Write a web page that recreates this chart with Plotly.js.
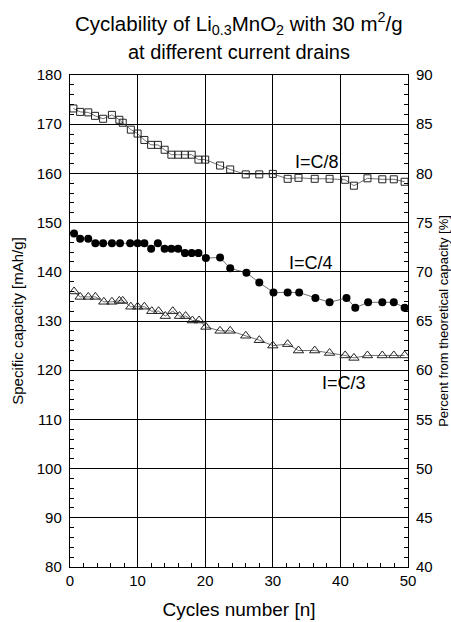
<!DOCTYPE html>
<html>
<head>
<meta charset="utf-8">
<script src="https://cdn.plot.ly/plotly-3.0.1.min.js"></script>
<style>html,body{margin:0;padding:0;background:#fff}#chart{width:451px;height:622px}</style>
</head>
<body>
<div id="chart"></div>
<script>
// Cycle numbers and specific capacity [mAh/g]
var c8x = [0.5,1.5,2.7,3.7,4.9,6.2,7.3,7.8,9,10,11,12,13,14,15,16,17,18,19,20,22.2,23.7,26,28,30,32.2,33.8,36.2,38.4,40.7,42,44,46.2,47.9,49.5];
var c8y = [173.2,172.5,172.4,171.7,171.1,171.9,170.9,170.3,168.9,168.1,166.8,165.8,165.8,164.8,163.8,163.8,163.8,163.8,162.8,162.8,161.6,160.8,159.8,159.8,159.9,158.9,159.1,158.9,158.9,158.7,157.5,159.0,158.8,158.8,158.3];

var c4x = [0.6,1.5,2.7,3.75,4.9,6.2,7.4,8.9,10,11,12,13,14,15,16,17,18,19,20.1,22.2,23.7,26.1,28,30.1,32.2,33.9,36.3,38.4,40.9,42.2,44.1,46.2,47.9,49.5];
var c4y = [147.8,146.7,146.7,145.8,145.8,145.8,145.8,145.8,145.8,145.8,144.7,145.8,144.7,144.7,144.7,143.8,143.8,143.8,142.8,142.9,140.7,139.8,137.8,135.8,135.8,135.8,134.7,133.8,134.7,132.7,133.8,133.8,133.8,132.7];

var c3x = [0.6,1.5,2.7,3.75,5,6.2,7.3,7.8,9,10,11,12.1,13.1,14.1,15.2,16.2,17.1,18.1,19.1,20.1,22.2,23.7,26,28,30,32.2,33.8,36.2,38.4,40.7,42,44,46.2,47.9,49.5];
var c3y = [136.0,134.9,134.9,134.9,133.9,133.9,134.1,134.1,132.9,132.9,132.9,132.0,132.0,131.0,132.0,131.0,131.0,130.1,130.1,128.8,128.0,128.0,127.0,126.1,125.0,125.3,124.0,124.0,123.5,123.0,122.5,123.0,123.0,123.0,123.0];

var seriesLabels = ['I=C/8', 'I=C/4', 'I=C/3'];
var titleLines = ['Cyclability of Li<sub>0.3</sub>MnO<sub>2</sub> with 30 m<sup>2</sup>/g', 'at different current drains'];

var FONT = 'Liberation Sans, Arial, sans-serif';
var lineStyle = {color: '#333', width: 0.7};

var traces = [
  {x: c8x, y: c8y, mode: 'lines+markers', name: seriesLabels[0], line: lineStyle,
   marker: {symbol: 'square-open', size: 7, color: '#222', line: {width: 1}}},
  {x: c4x, y: c4y, mode: 'lines+markers', name: seriesLabels[1], line: lineStyle,
   marker: {symbol: 'circle', size: 8, color: '#000'}},
  {x: c3x, y: c3y, mode: 'lines+markers', name: seriesLabels[2], line: lineStyle,
   marker: {symbol: 'triangle-up-open', size: 9, color: '#222', line: {width: 1}}},
  {x: [0, 50], y: [40, 90], yaxis: 'y2', mode: 'markers', marker: {opacity: 0}, hoverinfo: 'skip', showlegend: false}
];

var layout = {
  width: 451, height: 622,
  margin: {l: 70, r: 43, t: 75, b: 55},
  paper_bgcolor: '#fff', plot_bgcolor: '#fff',
  showlegend: false,
  font: {family: FONT, color: '#000', size: 15},
  xaxis: {
    range: [0, 50], dtick: 10, tick0: 0,
    ticks: 'inside', ticklen: 7, tickwidth: 1, tickcolor: '#000',
    minor: {dtick: 2, ticks: 'inside', ticklen: 4, tickcolor: '#000', showgrid: false},
    showgrid: true, gridcolor: '#000', gridwidth: 1,
    showline: true, linecolor: '#000', linewidth: 1.2, mirror: true,
    zeroline: false,
    tickfont: {size: 15},
    title: {text: 'Cycles number [n]', font: {size: 19}, standoff: 14}
  },
  yaxis: {
    range: [80, 180], dtick: 10, tick0: 80,
    ticks: 'inside', ticklen: 7, tickwidth: 1, tickcolor: '#000',
    minor: {dtick: 2, ticks: 'inside', ticklen: 4, tickcolor: '#000', showgrid: false},
    showgrid: true, gridcolor: '#000', gridwidth: 1,
    showline: true, linecolor: '#000', linewidth: 1.2, mirror: true,
    zeroline: false,
    ticklabelstandoff: 4,
    tickfont: {size: 15},
    title: {text: 'Specific capacity [mAh/g]', font: {size: 15}, standoff: 9}
  },
  yaxis2: {
    overlaying: 'y', side: 'right',
    range: [40, 90], dtick: 5, tick0: 40,
    ticks: 'inside', ticklen: 7, tickwidth: 1, tickcolor: '#000',
    minor: {dtick: 1, ticks: 'inside', ticklen: 4, tickcolor: '#000', showgrid: false},
    showgrid: false, zeroline: false, showline: false,
    ticklabelstandoff: 7,
    tickfont: {size: 15},
    title: {text: 'Percent from theoretical capacity [%]', font: {size: 13}, standoff: 8}
  },
  annotations: [
    {x: 0.5, y: 1.104, xref: 'paper', yref: 'paper', xanchor: 'center', yanchor: 'middle',
     text: titleLines[0], showarrow: false, font: {size: 20.5}},
    {x: 0.5, y: 1.047, xref: 'paper', yref: 'paper', xanchor: 'center', yanchor: 'middle',
     text: titleLines[1], showarrow: false, font: {size: 20}},
    {x: 36.5, y: 162.3, xref: 'x', yref: 'y', text: seriesLabels[0], showarrow: false, font: {size: 18}},
    {x: 35.7, y: 141.8, xref: 'x', yref: 'y', text: seriesLabels[1], showarrow: false, font: {size: 18}},
    {x: 40.5, y: 117.5, xref: 'x', yref: 'y', text: seriesLabels[2], showarrow: false, font: {size: 18}}
  ]
};

Plotly.newPlot('chart', traces, layout, {displayModeBar: false, staticPlot: true});
</script>
</body>
</html>
